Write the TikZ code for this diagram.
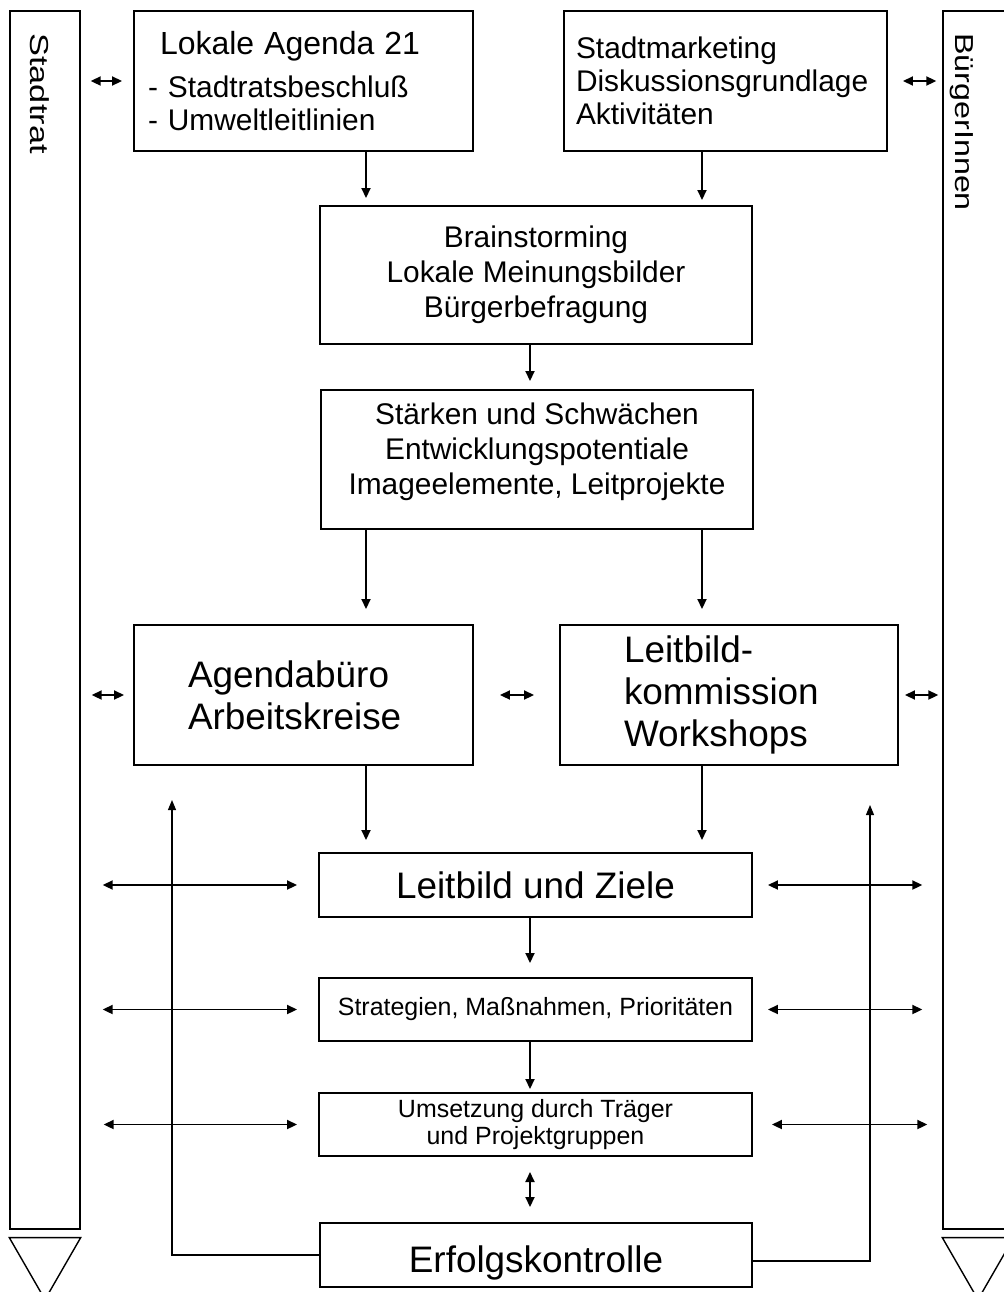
\documentclass[tikz,border=0pt]{standalone}
\usepackage{fontspec}
\setmainfont{Liberation Sans}
\usetikzlibrary{arrows.meta}

\newcommand{\fside}{\fontsize{14.8}{16}\selectfont}
\newcommand{\ftop}{\fontsize{17}{18.8}\selectfont}
\newcommand{\ftitle}{\fontsize{18.2}{18.8}\selectfont}
\newcommand{\fmid}{\fontsize{17}{19.9}\selectfont}
\newcommand{\fbig}{\fontsize{21}{23.9}\selectfont}
\newcommand{\fsmall}{\fontsize{14.2}{15.4}\selectfont}

\tikzstyle{box}=[draw, line width=0.8pt, inner sep=0pt, outer sep=0pt]
\tikzstyle{col}=[draw, line width=0.8pt, inner sep=0pt, minimum width=1.4cm, minimum height=24.36cm]
\tikzstyle{side}=[rotate=-90, anchor=west, inner sep=0pt, font=\fside]
\tikzstyle{arr}=[-{Triangle[length=0.2cm, width=0.18cm]}, line width=1.1pt]
\tikzstyle{dbl}=[{Triangle[length=0.2cm, width=0.18cm]}-{Triangle[length=0.2cm, width=0.18cm]}, line width=1.1pt]
\tikzstyle{back}=[-{Triangle[length=0.2cm, width=0.16cm]}, line width=0.6pt]

\begin{document}
\begin{tikzpicture}[x=0.02cm, y=-0.02cm]
    \useasboundingbox (0,0) rectangle (1004,1292);
    \clip (0,0) rectangle (1004,1292);

    % Seitenleisten
    \node[col] (stadtrat) at (45,620) {};
    \node[col] (buerger)  at (978,620) {};
    \draw[line width=0.8pt] ([yshift=-0.16cm]stadtrat.south west) -- ([yshift=-0.16cm]stadtrat.south east) -- ([yshift=-1.4cm]stadtrat.south) -- cycle;
    \draw[line width=0.8pt] ([yshift=-0.16cm]buerger.south west) -- ([yshift=-0.16cm]buerger.south east) -- ([yshift=-1.4cm]buerger.south) -- cycle;
    \node[side, xscale=1.32] (stadtratlbl) at (40,33) {Stadtrat};
    \node[side, xscale=1.24] (buergerlbl)  at (962,33) {BürgerInnen};

    % Kaesten
    \node[box, minimum width=6.78cm, minimum height=2.8cm, text width=6.22cm, inner xsep=0.28cm, align=left, font=\ftop] (lokale) at (303.5,81)
        {\hspace*{0.24cm}{\ftitle Lokale Agenda 21}\\[0.2cm]- Stadtratsbeschluß\\- Umweltleitlinien};
    \node[box, minimum width=6.46cm, minimum height=2.8cm, text width=5.98cm, inner xsep=0.24cm, align=left, font=\ftop] (stadtm) at (725.5,81)
        {Stadtmarketing\\Diskussionsgrundlage\\Aktivitäten};
    \node[box, minimum width=8.64cm, minimum height=2.76cm, align=center, font=\fmid] (brain) at (536,275)
        {Brainstorming\\Lokale Meinungsbilder\\Bürgerbefragung};
    \node[box, minimum width=8.64cm, minimum height=2.78cm, align=center, font=\fmid, text depth=0.45cm] (staerken) at (537,459.5)
        {Stärken und Schwächen\\Entwicklungspotentiale\\Imageelemente, Leitprojekte};
    \node[box, minimum width=6.78cm, minimum height=2.8cm, text width=4.62cm, inner xsep=1.08cm, align=left, font=\fbig] (agenda) at (303.5,695)
        {Agendabüro\\Arbeitskreise};
    \node[box, minimum width=6.76cm, minimum height=2.8cm, text width=4.2cm, inner xsep=1.28cm, align=left, font=\fbig] (leitk) at (729,695)
        {Leitbild-\\kommission\\Workshops};
    \node[box, minimum width=8.66cm, minimum height=1.28cm, font=\fbig] (ziele) at (535.5,885) {Leitbild und Ziele};
    \node[box, minimum width=8.66cm, minimum height=1.26cm, font=\fsmall] (strat) at (535.5,1009.5) {Strategien, Maßnahmen, Prioritäten};
    \node[box, minimum width=8.66cm, minimum height=1.26cm, align=center, font=\fsmall] (umsetz) at (535.5,1124.5)
        {Umsetzung durch Träger\\und Projektgruppen};
    \node[box, minimum width=8.64cm, minimum height=1.28cm, font=\fbig, text height=0.7cm, text depth=0cm] (erfolg) at (536,1255) {Erfolgskontrolle};

    % Spalten der Pfeile
    \coordinate (colL) at (366,0);
    \coordinate (colM) at (530,0);
    \coordinate (colR) at (702,0);
    \coordinate (backL) at (172,800);
    \coordinate (backR) at (870,805);

    % Pfeile nach unten
    \draw[arr, shorten >=0.16cm] (lokale.south -| colL) -- (brain.north -| colL);
    \draw[arr, shorten >=0.12cm] (stadtm.south -| colR) -- (brain.north -| colR);
    \draw[arr, shorten >=0.18cm] (brain.south -| colM) -- (staerken.north -| colM);
    \draw[arr, shorten >=0.32cm] (staerken.south -| colL) -- (agenda.north -| colL);
    \draw[arr, shorten >=0.32cm] (staerken.south -| colR) -- (leitk.north -| colR);
    \draw[arr, shorten >=0.26cm] (agenda.south -| colL) -- (ziele.north -| colL);
    \draw[arr, shorten >=0.26cm] (leitk.south -| colR) -- (ziele.north -| colR);
    \draw[arr, shorten >=0.3cm] (ziele.south -| colM) -- (strat.north -| colM);
    \draw[arr, shorten >=0.08cm] (strat.south -| colM) -- (umsetz.north -| colM);
    \draw[dbl, shorten <=0.32cm, shorten >=0.32cm] (umsetz.south -| colM) -- (erfolg.north -| colM);

    % kurze Doppelpfeile
    \draw[dbl, shorten <=0.2cm, shorten >=0.24cm] (stadtrat.east |- lokale.west) -- (lokale.west);
    \draw[dbl, shorten <=0.32cm, shorten >=0.12cm] (stadtm.east) -- (buerger.west |- stadtm.east);
    \draw[dbl, shorten <=0.22cm, shorten >=0.2cm] (stadtrat.east |- agenda.west) -- (agenda.west);
    \draw[dbl, shorten <=0.54cm, shorten >=0.52cm] (agenda.east) -- (leitk.west);
    \draw[dbl, shorten <=0.14cm, shorten >=0.08cm] (leitk.east) -- (buerger.west |- leitk.east);

    % Rueckkopplung
    \draw[back] (erfolg.west) -| (backL);
    \draw[back] ([yshift=-0.12cm]erfolg.east) -| (backR);

    % lange Doppelpfeile
    \draw[dbl, shorten <=0.44cm, shorten >=0.44cm] (stadtrat.east |- ziele.west) -- (ziele.west);
    \draw[dbl, shorten <=0.32cm, shorten >=0.4cm] (ziele.east) -- (buerger.west |- ziele.east);
    \draw[dbl, shorten <=0.44cm, shorten >=0.44cm] (stadtrat.east |- strat.west) -- (strat.west);
    \draw[dbl, shorten <=0.32cm, shorten >=0.4cm] (strat.east) -- (buerger.west |- strat.east);
    \draw[dbl, shorten <=0.46cm, shorten >=0.44cm] (stadtrat.east |- umsetz.west) -- (umsetz.west);
    \draw[dbl, shorten <=0.4cm, shorten >=0.3cm] (umsetz.east) -- (buerger.west |- umsetz.east);
\end{tikzpicture}
\end{document}
